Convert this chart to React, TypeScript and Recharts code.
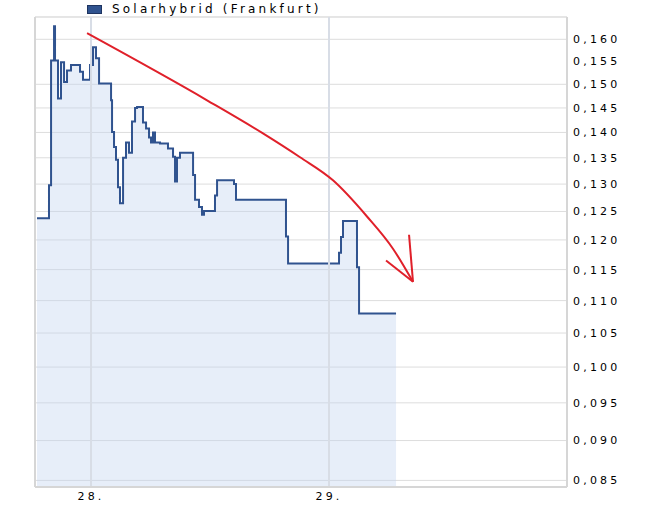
import {
  Area,
  CartesianGrid,
  ComposedChart,
  Line,
  ReferenceLine,
  XAxis,
  YAxis,
} from "recharts";

// Zeit in Stunden ab dem 28. 00:00 Uhr
const kursStunden = [
  -5.45, -4.24, -4.03, -3.73, -3.63, -3.33, -3.03, -2.72, -2.42, -2.02, -1.11,
  -0.81, -0.1, 0.2, 0.5, 0.81, 2.02, 2.12, 2.32, 2.52, 2.72, 2.92, 3.23, 3.53,
  3.83, 4.13, 4.44, 4.64, 5.24, 5.55, 5.85, 6.05, 6.25, 6.45, 6.96, 7.76, 8.27,
  8.47, 8.67, 8.97, 10.29, 10.49, 10.89, 11.19, 11.39, 12.5, 12.71, 14.42,
  14.62, 19.66, 19.87, 25.01, 25.21, 25.41, 26.82, 27.03, 30.76,
];
const kurse = [
  0.1238, 0.1298, 0.1552, 0.163, 0.1552, 0.147, 0.1548, 0.1505, 0.153, 0.1542,
  0.1527, 0.151, 0.1542, 0.1582, 0.1557, 0.1502, 0.1466, 0.1401, 0.1371,
  0.1346, 0.1294, 0.1265, 0.135, 0.138, 0.136, 0.1422, 0.145, 0.1452, 0.142,
  0.1408, 0.139, 0.138, 0.14, 0.138, 0.1378, 0.1368, 0.1352, 0.1305, 0.135,
  0.136, 0.1317, 0.1271, 0.1258, 0.1244, 0.1251, 0.1279, 0.1307, 0.13, 0.1271,
  0.1206, 0.116, 0.1178, 0.1205, 0.1233, 0.1154, 0.108, 0.108,
];

// roter Trendpfeil (Handzeichnung)
const pfeilStunden = [-0.4, 11.7, 17.34, 21.08, 24.4, 27.83, 30.45, 32.47];
const pfeilWerte = [0.1614, 0.1466, 0.1398, 0.1351, 0.1307, 0.1241, 0.1185, 0.113];
const spitzeLinks = [
  [29.75, 0.1165],
  [32.47, 0.113],
];
const spitzeRechts = [
  [32.07, 0.1209],
  [32.47, 0.113],
];

const yTicks = [
  0.085, 0.09, 0.095, 0.1, 0.105, 0.11, 0.115, 0.12, 0.125, 0.13, 0.135, 0.14,
  0.145, 0.15, 0.155, 0.16,
];
const tagTicks = [0, 24];
const tagLabels = ["28.", "29."];

const X_MIN = -5.65;
const X_MAX = 48;
const Y_MIN = 0.0842;
const Y_MAX = 0.1652;

const kursDaten = kursStunden.map((h, i) => ({ h, kurs: kurse[i] }));
const pfeilDaten = pfeilStunden.map((h, i) => ({ h, v: pfeilWerte[i] }));
const links = spitzeLinks.map(([h, v]) => ({ h, v }));
const rechts = spitzeRechts.map(([h, v]) => ({ h, v }));

const font = '"DejaVu Sans", Verdana, sans-serif';
const tickStyle = { fill: "#000", fontSize: 11, fontFamily: font, letterSpacing: 3.2 };

export default function App() {
  return (
    <div style={{ position: "absolute", left: 0, top: 0, width: 662, height: 512, background: "#fff" }}>
      <div
        style={{
          position: "absolute",
          left: 87,
          top: 2,
          display: "flex",
          alignItems: "center",
          fontFamily: font,
          fontSize: 12,
          letterSpacing: 3.2,
          color: "#000",
        }}
      >
        <span
          style={{
            display: "inline-block",
            width: 13,
            height: 7,
            background: "#30538f",
            border: "1px solid #1e3460",
            marginRight: 10,
          }}
        />
        Solarhybrid (Frankfurt)
      </div>
      <ComposedChart
        width={662}
        height={512}
        data={kursDaten}
        margin={{ top: 17, right: 0, left: 35, bottom: 0 }}
      >
        <CartesianGrid stroke="#dddddd" vertical={false} />
        <XAxis
          dataKey="h"
          type="number"
          domain={[X_MIN, X_MAX]}
          allowDataOverflow
          ticks={tagTicks}
          tickFormatter={(v) => tagLabels[tagTicks.indexOf(v)] ?? ""}
          height={25}
          tickLine={false}
          tickSize={3}
          axisLine={{ stroke: "#d6d6d6", strokeWidth: 2 }}
          tick={tickStyle}
        />
        <YAxis
          orientation="right"
          scale="log"
          domain={[Y_MIN, Y_MAX]}
          allowDataOverflow
          ticks={yTicks}
          tickFormatter={(v) => v.toFixed(3).replace(".", ",")}
          width={95}
          tickLine={false}
          tickSize={4}
          tickMargin={2}
          axisLine={{ stroke: "#d6d6d6", strokeWidth: 2 }}
          tick={tickStyle}
        />
        <ReferenceLine y={Y_MAX} stroke="#dddddd" />
        <ReferenceLine x={X_MIN} stroke="#d6d6d6" strokeWidth={2} />
        <Area
          type="stepAfter"
          dataKey="kurs"
          baseValue={Y_MIN}
          stroke="#30538f"
          strokeWidth={2}
          fill="#c4d5ef"
          fillOpacity={0.4}
          isAnimationActive={false}
        />
        {tagTicks.map((t) => (
          <ReferenceLine key={t} x={t} stroke="#d8dde6" strokeWidth={2} />
        ))}
        <Line
          data={pfeilDaten}
          dataKey="v"
          type="monotone"
          stroke="#e0202a"
          strokeWidth={2}
          dot={false}
          isAnimationActive={false}
        />
        <Line
          data={links}
          dataKey="v"
          type="linear"
          stroke="#e0202a"
          strokeWidth={2}
          dot={false}
          isAnimationActive={false}
        />
        <Line
          data={rechts}
          dataKey="v"
          type="linear"
          stroke="#e0202a"
          strokeWidth={2}
          dot={false}
          isAnimationActive={false}
        />
      </ComposedChart>
    </div>
  );
}
